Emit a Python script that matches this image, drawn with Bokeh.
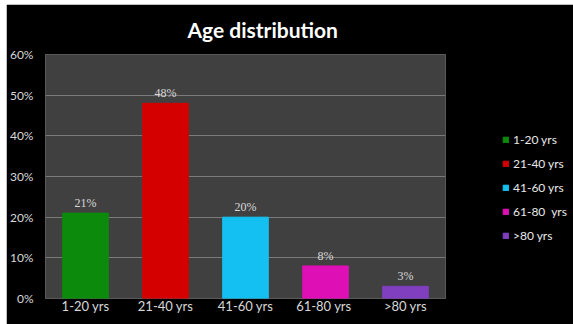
from bokeh.plotting import figure
from bokeh.layouts import column, row
from bokeh.models import ColumnDataSource, Legend, LegendItem, NumeralTickFormatter, FixedTicker, LabelSet, Spacer
from bokeh.embed import file_html
from bokeh.resources import INLINE

categories = ["1-20 yrs", "21-40 yrs", "41-60 yrs", "61-80  yrs", ">80 yrs"]
legend_labels = ["1-20 yrs", "21-40 yrs", "41-60 yrs", "61-80  yrs", ">80 yrs"]
values = [0.21, 0.48, 0.20, 0.08, 0.03]
value_labels = ["21%", "48%", "20%", "8%", "3%"]
colors = ["#0c8a0c", "#d40000", "#14c0f2", "#de0fb4", "#7f3fbf"]
y_ticks = [0, 0.1, 0.2, 0.3, 0.4, 0.5, 0.6]

src = ColumnDataSource(dict(cat=categories, val=values, lbl=value_labels, color=colors))

p = figure(x_range=categories, y_range=(0, 0.6), frame_width=400, frame_height=244,
           output_backend="svg", toolbar_location=None,
           background_fill_color="#404040", border_fill_color="black",
           min_border_left=39, min_border_right=128, min_border_top=50, min_border_bottom=26)
p.outline_line_color = "#595959"

p.title.text = "Age distribution"
p.title.text_color = "white"
p.title.text_font = "Lato"
p.title.text_font_size = "21px"
p.title.text_font_style = "bold"
p.title.align = "left"
p.title.offset = 142
p.title.standoff = 21
p.title.vertical_align = "top"

r = p.vbar(x="cat", top="val", width=0.57, color="color", source=src)

p.add_layout(LabelSet(x="cat", y="val", text="lbl", source=src, y_offset=3,
                      text_align="center", text_baseline="bottom",
                      text_color="#d8d8d8", text_font="Lato", text_font_size="12px"))

p.yaxis.ticker = FixedTicker(ticks=y_ticks)
p.yaxis.formatter = NumeralTickFormatter(format="0%")
for ax in (p.xaxis[0], p.yaxis[0]):
    ax.axis_line_color = None
    ax.major_tick_line_color = None
    ax.minor_tick_line_color = None
    ax.major_label_text_color = "#d8d8d8"
    ax.major_label_text_font = "Lato"
p.yaxis.major_label_text_font_size = "12px"
p.xaxis.major_label_text_font_size = "13px"
p.yaxis.major_label_standoff = 6
p.xaxis.major_label_standoff = -7

p.xgrid.grid_line_color = None
p.ygrid.grid_line_color = "#7a7a7a"
p.ygrid.grid_line_width = 1

items = [LegendItem(label=legend_labels[i], renderers=[r], index=i) for i in range(len(categories))]
legend = Legend(items=items, location=(57, 55), glyph_width=7, glyph_height=7,
                label_text_color="#e8e8e8", label_text_font="Lato", label_text_font_size="12px",
                label_height=14, spacing=9, label_standoff=4, padding=0,
                background_fill_alpha=0, border_line_alpha=0)
legend.margin = 0
p.add_layout(legend, "right")

layout = column(Spacer(height=4), row(Spacer(width=6), p))

open("out.html", "w").write(file_html(layout, INLINE))
